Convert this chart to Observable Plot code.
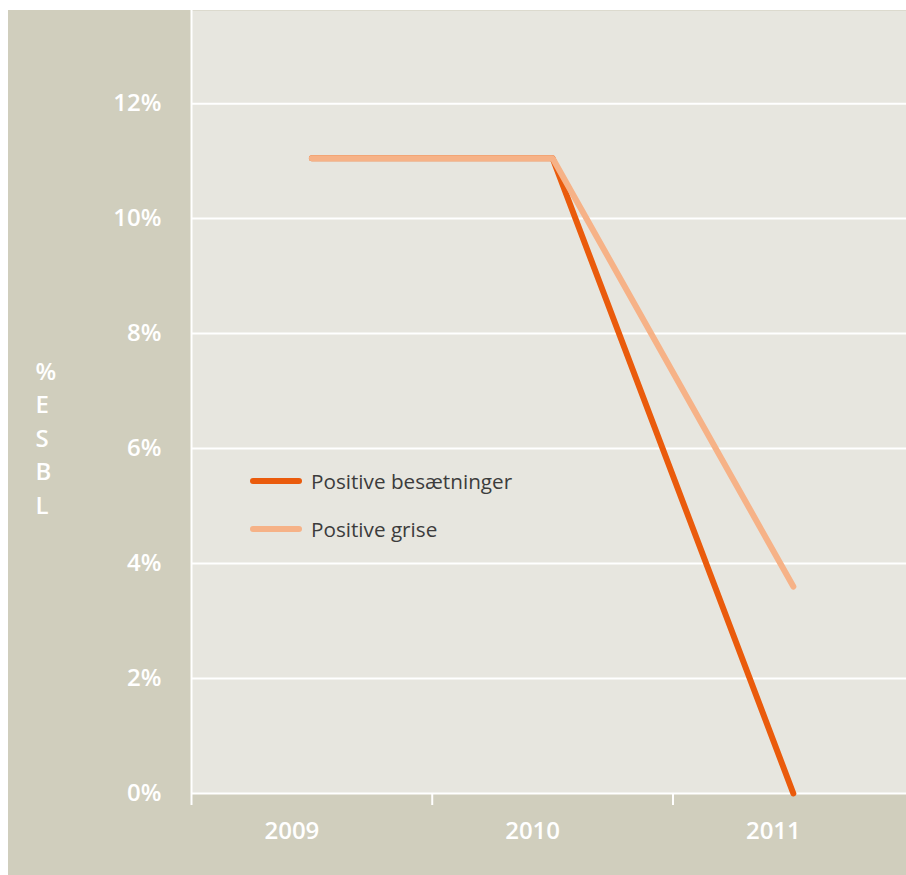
<!DOCTYPE html>
<html>
<head>
<meta charset="utf-8">
<script src="https://cdn.jsdelivr.net/npm/d3@7"></script>
<script src="https://cdn.jsdelivr.net/npm/@observablehq/plot@0.6"></script>
<style>
  html, body { margin: 0; padding: 0; background: #ffffff; }
  #wrap { position: relative; margin: 10px 0 0 8px; width: 898px; height: 865px; }
  #wrap svg { display: block; background: #d0cebd; }
  .legend { position: absolute; left: 242px; top: 447px; font-family: "Open Sans", sans-serif; font-size: 20.7px; color: #3c3c3c; }
  .legend .row { display: flex; align-items: center; height: 48px; }
  .legend .sw { width: 52px; height: 6px; border-radius: 3px; margin-right: 9px; }
</style>
</head>
<body>
<div id="wrap"></div>
<script>
const years = [2009, 2010, 2011];
const besaetninger = [11.05, 11.05, 0];
const grise = [11.05, 11.05, 3.6];
const yTicks = [0, 2, 4, 6, 8, 10, 12];
const gridTicks = [2, 4, 6, 8, 10, 12];
const bandEdges = [2008.5, 2009.5, 2010.5];
const seriesNames = ["Positive besætninger", "Positive grise"];
const seriesColors = ["#ea5b0c", "#f6b287"];
const axisLabel = "%\nE\nS\nB\nL";

const data = [
  ...years.map((y, i) => ({year: y, value: besaetninger[i], series: seriesNames[0]})),
  ...years.map((y, i) => ({year: y, value: grise[i], series: seriesNames[1]}))
];

const font = "'Open Sans', sans-serif";

const chart = Plot.plot({
  width: 898,
  height: 865,
  marginLeft: 183,
  marginRight: 0,
  marginTop: 0,
  marginBottom: 82,
  style: {background: "#d0cebd", fontFamily: font},
  x: {domain: [2008.5, 2011.47], axis: null},
  y: {domain: [0, 13.62], axis: null},
  marks: [
    Plot.frame({fill: "#e7e6df", stroke: null}),
    Plot.ruleY(gridTicks, {stroke: "white", strokeWidth: 2}),
    Plot.ruleY([0], {stroke: "white", strokeWidth: 2}),
    Plot.ruleX([bandEdges[0]], {stroke: "white", strokeWidth: 2}),
    Plot.axisX({ticks: bandEdges, tickSize: 12, stroke: "white", strokeWidth: 2, tickFormat: () => "", strokeOpacity: 1, label: null}),
    Plot.axisX({ticks: years, tickSize: 0, tickPadding: 28, tickFormat: d => String(d), fill: "white", fontSize: 24, fontWeight: 600, dx: -20, label: null}),
    Plot.axisY({ticks: yTicks, tickSize: 0, tickPadding: 30, tickFormat: d => d + "%", fill: "white", fontSize: 24, fontWeight: 600, label: null}),
    Plot.line(data.filter(d => d.series === seriesNames[0]), {x: "year", y: "value", stroke: seriesColors[0], strokeWidth: 6, strokeLinecap: "round", strokeLinejoin: "round"}),
    Plot.line(data.filter(d => d.series === seriesNames[1]), {x: "year", y: "value", stroke: seriesColors[1], strokeWidth: 6, strokeLinecap: "round", strokeLinejoin: "miter"}),
    Plot.text([axisLabel], {frameAnchor: "left", text: d => d, dx: -156, dy: 34, textAnchor: "start", lineAnchor: "middle", lineHeight: 1.4, fill: "white", fontSize: 24, fontWeight: 600})
  ]
});

const wrap = document.getElementById("wrap");
wrap.appendChild(chart);

const legend = document.createElement("div");
legend.className = "legend";
seriesNames.forEach((name, i) => {
  const row = document.createElement("div");
  row.className = "row";
  const sw = document.createElement("span");
  sw.className = "sw";
  sw.style.background = seriesColors[i];
  const label = document.createElement("span");
  label.textContent = name;
  row.appendChild(sw);
  row.appendChild(label);
  legend.appendChild(row);
});
wrap.appendChild(legend);
</script>
</body>
</html>
